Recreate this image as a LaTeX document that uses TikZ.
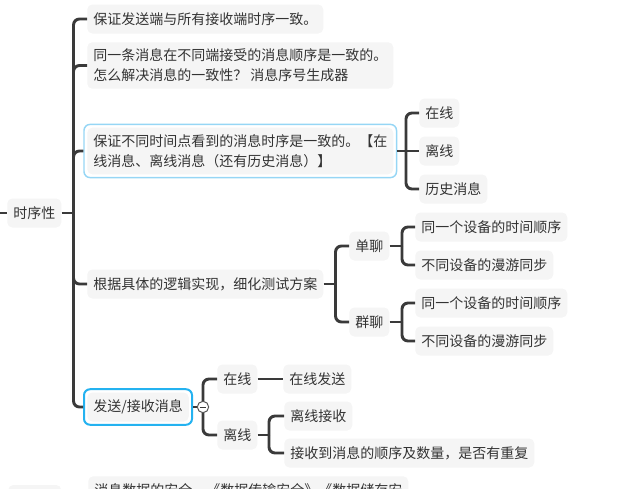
\documentclass[tikz,border=0pt]{standalone}
\usepackage{fontspec}
\setmainfont{Noto Sans CJK SC}
\usepackage{tikz}
\usetikzlibrary{fit,positioning}
\usetikzlibrary{calc}

\definecolor{boxgray}{RGB}{245,245,245}
\definecolor{textgray}{RGB}{51,51,51}
\definecolor{linegray}{RGB}{58,58,58}
\definecolor{selpale}{RGB}{150,214,245}
\definecolor{selblue}{RGB}{36,178,240}

\tikzset{
  topic/.style={fill=boxgray, rounded corners=3.75pt, text=textgray, inner xsep=4.5pt, inner ysep=5pt,
    minimum height=21.75pt, anchor=west, align=left, font=\fontsize{10.5pt}{15pt}\selectfont},
  link/.style={draw=linegray, line width=2.2pt, rounded corners=4.5pt},
  selpalebox/.style={draw=selpale, line width=1.1pt, rounded corners=4.5pt, inner sep=2.25pt},
  selbluebox/.style={draw=selblue, line width=1.5pt, rounded corners=4.5pt, inner sep=2.25pt},
  foldbtn/.style={circle, draw=linegray!85, fill=white, line width=0.75pt, minimum size=8.5pt, inner sep=0pt,
    path picture={\draw[linegray, line width=0.75pt] ([xshift=-2.6pt]path picture bounding box.center) -- ([xshift=2.6pt]path picture bounding box.center);}}
}

\begin{document}
\begin{tikzpicture}[x=0.75pt,y=0.75pt,yscale=-1,xscale=1]
\useasboundingbox (0,0) rectangle (626,489);
\clip (0,0) rectangle (626,489);

% Text Node
\node (root) [topic] at (7,213) {时序性};
% Text Node
\node (c1) [topic] at (87,19) {保证发送端与所有接收端时序一致。};
% Text Node
\node (c2) [topic] at (87,65.5) {同一条消息在不同端接受的消息顺序是一致的。\\怎么解决消息的一致性？ 消息序号生成器};
% Text Node
\node (c3) [topic] at (87,151) {保证不同时间点看到的消息时序是一致的。【在\\线消息、离线消息（还有历史消息）】};
\node (c3sel) [selpalebox, fit=(c3)] {};
% Text Node
\node (c4) [topic] at (87,284) {根据具体的逻辑实现，细化测试方案};
% Text Node
\node (c5) [topic] at (87,407) {发送/接收消息};
\node (c5sel) [selbluebox, fit=(c5)] {};

% Text Node
\node (online) [topic] at (419,113) {在线};
\node (offline) [topic] at (419,151) {离线};
\node (history) [topic] at (419,189) {历史消息};

% Text Node
\node (single) [topic] at (349,246) {单聊};
\node (singleA) [topic] at (415,227) {同一个设备的时间顺序};
\node (singleB) [topic] at (415,265) {不同设备的漫游同步};
% Text Node
\node (group) [topic] at (349,322) {群聊};
\node (groupA) [topic] at (415,303) {同一个设备的时间顺序};
\node (groupB) [topic] at (415,341) {不同设备的漫游同步};

% Text Node
\node (sendon) [topic] at (217,379) {在线};
\node (sendonA) [topic] at (283,379) {在线发送};
% Text Node
\node (sendoff) [topic] at (217,435) {离线};
\node (sendoffA) [topic] at (284,416) {离线接收};
\node (sendoffB) [topic] at (284,453) {接收到消息的顺序及数量，是否有重复};

% Text Node (next topic, cut off by the frame)
\node (nextroot) [topic, minimum width=39.75pt] at (8,499.5) {};
\node (nextc1) [topic, anchor=north west] at (88,476) {消息数据的安全，《数据传输安全》《数据储存安};

%Straight Lines
\coordinate (offroot) at (0,213);
\draw [link] (offroot) -- (root.west);
\coordinate (j0) at (73.5,213);
\draw [link] (root.east) -- (j0);
\draw [link] (j0) |- (c1.west);
\draw [link] (j0) |- (c2.west);
\draw [link] (j0) |- (c3sel.west);
\draw [link] (j0) |- (c4.west);
\draw [link] (j0) |- (c5sel.west);

%Straight Lines
\coordinate (j3) at (406,151);
\draw [link] (c3sel.east) -- (j3);
\draw [link] (j3) |- (online.west);
\draw [link] (j3) -- (offline.west);
\draw [link] (j3) |- (history.west);

%Straight Lines
\coordinate (j4) at (335.5,284);
\draw [link] (c4.east) -- (j4);
\draw [link] (j4) |- (single.west);
\draw [link] (j4) |- (group.west);
\coordinate (j41) at (402,246);
\draw [link] (single.east) -- (j41);
\draw [link] (j41) |- (singleA.west);
\draw [link] (j41) |- (singleB.west);
\coordinate (j42) at (402,322);
\draw [link] (group.east) -- (j42);
\draw [link] (j42) |- (groupA.west);
\draw [link] (j42) |- (groupB.west);

%Straight Lines
\coordinate (j5) at (203,407);
\draw [link] (c5sel.east) -- (j5);
\draw [link] (j5) |- (sendon.west);
\draw [link] (j5) |- (sendoff.west);
\draw [link] (sendon.east) -- (sendonA.west);
\coordinate (j52) at (269,435);
\draw [link] (sendoff.east) -- (j52);
\draw [link] (j52) |- (sendoffA.west);
\draw [link] (j52) |- (sendoffB.west);

%Shape: Circle
\node (c5fold) [foldbtn] at (j5) {};

\end{tikzpicture}
\end{document}
